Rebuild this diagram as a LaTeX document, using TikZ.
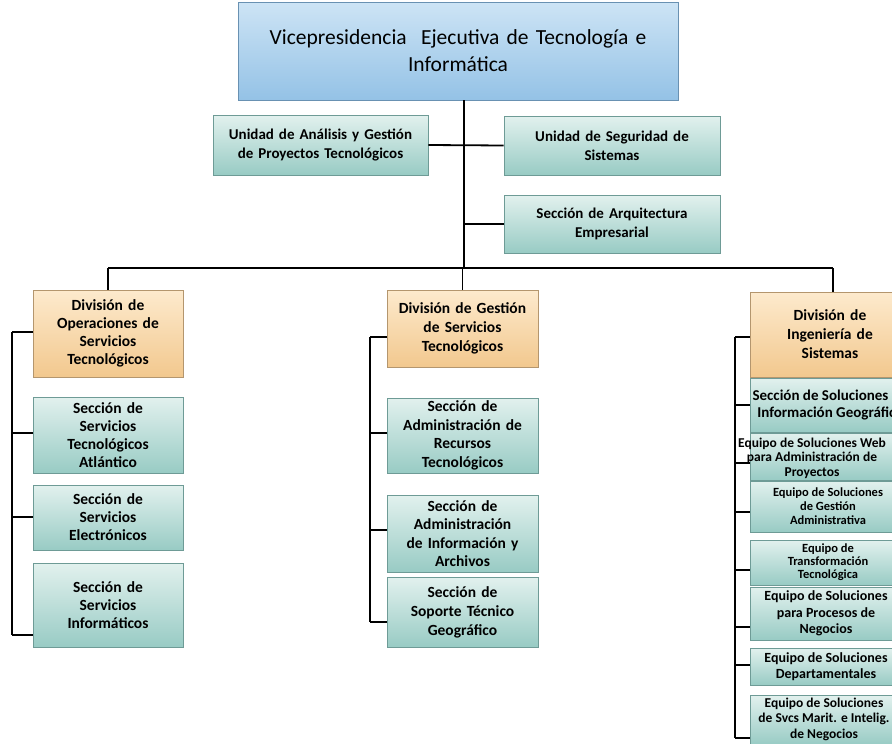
\documentclass[tikz,border=0pt]{standalone}
\usepackage{fontspec}
\setmainfont{Carlito}
\definecolor{tealA}{RGB}{226,241,238}
\definecolor{tealB}{RGB}{152,203,196}
\definecolor{tealC}{RGB}{110,155,150}
\definecolor{orA}{RGB}{253,234,205}
\definecolor{orB}{RGB}{242,200,142}
\definecolor{orC}{RGB}{180,150,110}
\definecolor{blA}{RGB}{205,228,245}
\definecolor{blB}{RGB}{148,194,230}
\definecolor{blC}{RGB}{105,145,178}
\newcommand{\fsz}[2]{\fontsize{#1}{#2}\selectfont}
\begin{document}
\begin{tikzpicture}[x=1pt,y=-1pt,
  box/.style={rectangle, inner sep=0pt, align=center, line width=0.6pt},
  tealbox/.style={box, top color=tealA, bottom color=tealB, draw=tealC},
  orbox/.style={box, top color=orA, bottom color=orB, draw=orC},
  blbox/.style={box, top color=blA, bottom color=blB, draw=blC},
  label/.style={align=center, inner sep=0pt},
  conn/.style={line width=1.8pt, black}]
\path[use as bounding box] (0,0) rectangle (892,744);
\clip (0,0) rectangle (892,744);
\fill[white] (0,0) rectangle (892,744);

% top
\node[blbox, minimum width=440pt, minimum height=98pt, text width=430pt, font=\fsz{21.5}{27}] (top) at (458,51)
  {Vicepresidencia\ \ Ejecutiva de Tecnología e\\Informática};

% staff units
\node[tealbox, minimum width=215pt, minimum height=60pt, text width=212pt, font=\bfseries\fsz{15}{19}] (ua) at (320.5,145)
  {Unidad de Análisis y Gestión\\de Proyectos Tecnológicos};
\node[tealbox, minimum width=216pt, minimum height=59pt, text width=212pt, font=\bfseries\fsz{15}{19}] (us) at (612,145.5)
  {Unidad de Seguridad de\\Sistemas};
\node[tealbox, minimum width=216pt, minimum height=58pt, text width=212pt, font=\bfseries\fsz{15}{19}] (arq) at (612,224)
  {Sección de Arquitectura\\Empresarial};

% left column
\node[orbox, minimum width=150pt, minimum height=87pt, text width=146pt, font=\bfseries\fsz{15.5}{18}] (dl) at (108,333.5)
  {División de\\Operaciones de\\Servicios\\Tecnológicos};
\node[tealbox, minimum width=150pt, minimum height=76pt, text width=146pt, font=\bfseries\fsz{15.5}{18}] (l1) at (108,435)
  {Sección de\\Servicios\\Tecnológicos\\Atlántico};
\node[tealbox, minimum width=150pt, minimum height=65pt, text width=146pt, font=\bfseries\fsz{15.5}{18}] (l2) at (108,517.5)
  {Sección de\\Servicios\\Electrónicos};
\node[tealbox, minimum width=150pt, minimum height=84pt, text width=146pt, font=\bfseries\fsz{15.5}{18}] (l3) at (108,605)
  {Sección de\\Servicios\\Informáticos};

% middle column
\node[orbox, minimum width=151pt, minimum height=77pt, text width=147pt, font=\bfseries\fsz{15.5}{19}] (dm) at (462.5,328.5)
  {División de Gestión\\de Servicios\\Tecnológicos};
\node[tealbox, minimum width=151pt, minimum height=75pt, text width=147pt, font=\bfseries\fsz{15.5}{18.5}] (m1) at (462.5,435.5)
  {Sección de\\Administración de\\Recursos\\Tecnológicos};
\node[tealbox, minimum width=151pt, minimum height=77pt, text width=147pt, font=\bfseries\fsz{15.5}{18.5}] (m2) at (462.5,533.5)
  {Sección de\\Administración\\de Información y\\Archivos};
\node[tealbox, minimum width=151pt, minimum height=70pt, text width=147pt, font=\bfseries\fsz{15.5}{19}] (m3) at (462.5,612)
  {Sección de\\Soporte Técnico\\Geográfico};

% right column
\node[orbox, minimum width=160pt, minimum height=85pt, text width=156pt, font=\bfseries\fsz{15.5}{19}] (dr) at (830,334.5)
  {División de\\Ingeniería de\\Sistemas};
\node[tealbox, minimum width=160pt, minimum height=54pt] (r1) at (830,405) {};
\node[label, font=\bfseries\fsz{15}{17}] (r1t) at (r1.center) {Sección de Soluciones de\\Información Geográfica};
\node[tealbox, minimum width=160pt, minimum height=47pt] (r2) at (830,456.5) {};
\node[label, font=\bfseries\fsz{13.5}{14.5}] (r2t) at (812,458) {Equipo de Soluciones Web\\para Administración de\\Proyectos};
\node[tealbox, minimum width=160pt, minimum height=51pt] (r3) at (830,506.5) {};
\node[label, font=\bfseries\fsz{12.5}{14}] (r3t) at (828,506.5) {Equipo de Soluciones\\de Gestión\\Administrativa};
\node[tealbox, minimum width=160pt, minimum height=45pt] (r4) at (830,562.5) {};
\node[label, font=\bfseries\fsz{12.5}{13}] (r4t) at (828,562.5) {Equipo de\\Transformación\\Tecnológica};
\node[tealbox, minimum width=160pt, minimum height=53pt] (r5) at (830,613.5) {};
\node[label, font=\bfseries\fsz{14}{16.5}] (r5t) at (826,613.5) {Equipo de Soluciones\\para Procesos de\\Negocios};
\node[tealbox, minimum width=160pt, minimum height=37pt] (r6) at (830,666.5) {};
\node[label, font=\bfseries\fsz{14}{16.5}] (r6t) at (826,666.5) {Equipo de Soluciones\\Departamentales};
\node[tealbox, minimum width=160pt, minimum height=50pt] (r7) at (830,720) {};
\node[label, font=\bfseries\fsz{13.5}{15.5}] (r7t) at (824,719) {Equipo de Soluciones\\de Svcs Marit. e Intelig.\\de Negocios};

% connectors: trunk and staff
\coordinate (tr) at (464,268);
\draw[conn] (top.south -| tr) -- (tr);
\draw[conn] (ua.east) -- (us.west);
\draw[conn] (arq.west -| tr) -- (arq.west);
% bus
\coordinate (busL) at (108,268);
\coordinate (busR) at (833,268);
\draw[conn] (busL) -- (busR);
\draw[conn] (busL) -- (dl.north);
\draw[conn] (dm.north |- tr) -- (dm.north);
\draw[conn] (busR) -- (dr.north -| busR);

% left bracket
\draw[conn] (12,332) -- (12,635);
\draw[conn] (12,332) -- (dl.west |- 0,332);
\draw[conn] (12,433) -- (l1.west |- 0,433);
\draw[conn] (12,517) -- (l2.west |- 0,517);
\draw[conn] (12,635) -- (l3.west |- 0,635);

% middle bracket
\draw[conn] (370,337) -- (370,622);
\draw[conn] (370,337) -- (dm.west |- 0,337);
\draw[conn] (370,433) -- (m1.west |- 0,433);
\draw[conn] (370,530) -- (m2.west |- 0,530);
\draw[conn] (370,622) -- (m3.west |- 0,622);

% right bracket
\draw[conn] (735,337) -- (735,738);
\draw[conn] (735,337) -- (dr.west |- 0,337);
\draw[conn] (735,405) -- (r1.west |- 0,405);
\draw[conn] (735,463) -- (r2.west |- 0,463);
\draw[conn] (735,512) -- (r3.west |- 0,512);
\draw[conn] (735,570) -- (r4.west |- 0,570);
\draw[conn] (735,627) -- (r5.west |- 0,627);
\draw[conn] (735,665) -- (r6.west |- 0,665);
\draw[conn] (735,738) -- (r7.west |- 0,738);
\end{tikzpicture}
\end{document}
